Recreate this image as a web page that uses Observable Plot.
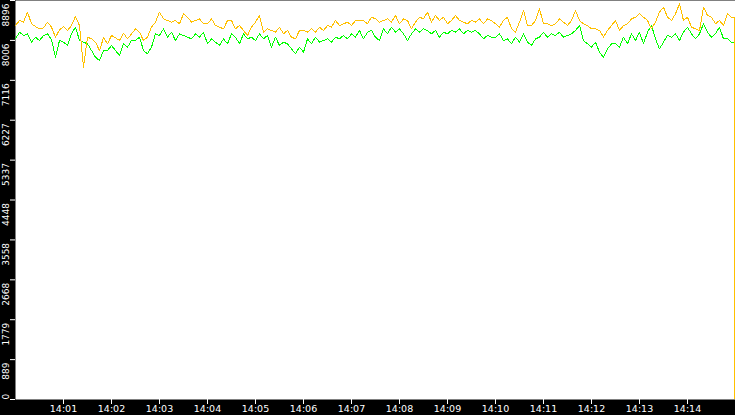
<!DOCTYPE html>
<html>
<head>
<meta charset="utf-8">
<script src="https://cdn.jsdelivr.net/npm/d3@7"></script>
<script src="https://cdn.jsdelivr.net/npm/@observablehq/plot@0.6"></script>
<style>
  html, body { margin: 0; padding: 0; background: #000; }
  #chart svg { display: block; }
</style>
</head>
<body>
<div id="chart"></div>
<script>
// Sample interval: 5 seconds, starting 14:00:00
const startTime = Date.UTC(2020, 0, 1, 14, 0, 0);
const stepSeconds = 5;

const orangeValues = [
  8339, 8450, 8413, 8636, 8376, 8316, 8264, 8287, 8413, 8301, 8078, 8242, 8316, 8227, 8339, 8539, 8339, 7409, 8078, 8041, 7967, 7781, 8064, 7930, 8116, 8064, 8004, 8168, 8041, 8153,
  8264, 8190, 8004, 8078, 8301, 8413, 8636, 8487, 8450, 8413, 8450, 8376, 8599, 8524, 8413, 8450, 8487, 8376, 8376, 8487, 8339, 8301, 8264, 8450, 8450, 8264, 8339, 8227, 8116, 8301,
  8413, 8562, 8190, 8264, 8227, 8190, 8301, 8153, 8227, 8078, 8041, 8227, 8227, 8190, 8264, 8190, 8301, 8227, 8339, 8301, 8450, 8339, 8376, 8413, 8339, 8450, 8450, 8450, 8376, 8524,
  8487, 8413, 8450, 8487, 8413, 8562, 8376, 8487, 8450, 8264, 8413, 8524, 8487, 8636, 8413, 8562, 8450, 8524, 8376, 8450, 8562, 8450, 8413, 8376, 8450, 8413, 8487, 8376, 8487, 8450,
  8376, 8301, 8450, 8524, 8264, 8190, 8413, 8673, 8339, 8339, 8450, 8710, 8376, 8376, 8339, 8376, 8487, 8413, 8339, 8450, 8673, 8450, 8376, 8339, 8264, 8264, 8227, 8080, 8227, 8339,
  8450, 8227, 8339, 8376, 8487, 8524, 8599, 8524, 8450, 8264, 8413, 8636, 8747, 8524, 8450, 8599, 8822, 8450, 8524, 8301, 8264, 8227, 8747, 8562, 8524, 8376, 8450, 8339, 8599, 8524
];

const greenValues = [
  8041, 8190, 8116, 8153, 7967, 8078, 8004, 8116, 8153, 8019, 7632, 8004, 7967, 7893, 8153, 8301, 8004, 7967, 7930, 7781, 7632, 7558, 7781, 7781, 7893, 7781, 7670, 7930, 7855, 8004,
  8004, 8078, 7781, 7707, 7855, 8153, 8116, 8264, 8078, 8190, 8004, 8153, 8116, 8078, 8041, 8153, 8078, 8190, 7930, 8041, 7967, 7893, 8041, 7930, 8153, 8078, 7930, 8153, 8041, 8078,
  8004, 8153, 8041, 8116, 7855, 8078, 7893, 7967, 7930, 7818, 7707, 7855, 7744, 8041, 7930, 8078, 7967, 8004, 8041, 7967, 8078, 8041, 8116, 8041, 8153, 8078, 8227, 8041, 8190, 8227,
  8078, 8004, 8264, 8153, 8301, 8190, 8264, 8153, 8004, 8153, 8264, 8190, 8264, 8227, 8153, 8227, 8078, 8190, 8153, 8227, 8190, 8264, 8153, 8227, 8190, 8227, 8153, 8041, 8116, 8078,
  8078, 8153, 8004, 8041, 7930, 8078, 7967, 8153, 7967, 7893, 8041, 8078, 8190, 8078, 8153, 8116, 8190, 8078, 8116, 8153, 8227, 8339, 8004, 7930, 7855, 7967, 7744, 7632, 7818, 7930,
  7930, 7855, 8078, 7930, 8153, 8004, 8190, 7930, 8190, 8339, 8041, 7818, 7967, 8116, 8078, 8153, 8004, 8190, 8301, 8153, 8041, 8153, 8376, 8190, 8078, 8153, 8301, 8041, 8041, 7967
];

// final sample (at 14:14:59) where the series drop
const orangeLast = 0;
const greenLast = 4146;
const lastSecond = 899;

const yTicks = [0, 889, 1779, 2668, 3558, 4448, 5337, 6227, 7116, 8006, 8896];
const xTickLabels = ["14:01","14:02","14:03","14:04","14:05","14:06","14:07","14:08","14:09","14:10","14:11","14:12","14:13","14:14"];

const orangeColor = "#ffc000";
const greenColor = "#00ff00";

function buildSeries(values) {
  return values.map((v, i) => ({t: new Date(startTime + i * stepSeconds * 1000), v}));
}
const orange = buildSeries(orangeValues);
const green = buildSeries(greenValues);
// closing segment: hold last sample, then drop at the final timestamp
const orangeTail = [orange[orange.length - 1], {t: new Date(startTime + lastSecond * 1000), v: orangeLast}];
const greenTail = [green[green.length - 1], {t: new Date(startTime + lastSecond * 1000), v: greenLast}];

const xTickDates = xTickLabels.map(s => {
  const [h, m] = s.split(":").map(Number);
  return new Date(Date.UTC(2020, 0, 1, h, m, 0));
});
const labelOf = new Map(xTickDates.map((d, i) => [+d, xTickLabels[i]]));

const lineOpts = {x: "t", y: "v", strokeWidth: 1, shapeRendering: "crispEdges", clip: true};

const chart = Plot.plot({
  width: 735,
  height: 415,
  marginLeft: 15,
  marginRight: 0,
  marginTop: 0,
  marginBottom: 16,
  style: {background: "#000", color: "#fff", fontFamily: "DejaVu Sans, sans-serif"},
  x: {type: "utc", domain: [new Date(startTime), new Date(startTime + 900 * 1000)]},
  y: {domain: [0, 8896]},
  marks: [
    Plot.frame({fill: "#fff", stroke: null}),
    Plot.axisX({
      ticks: xTickDates,
      tickSize: 5,
      tickPadding: 1,
      tickFormat: d => labelOf.get(+d),
      stroke: "#fff",
      fill: "#fff",
      fontSize: 9.5,
      label: null
    }),
    Plot.axisY({
      ticks: yTicks,
      tickSize: 5,
      tickFormat: () => "",
      stroke: "#fff",
      label: null
    }),
    Plot.text(yTicks.filter(d => d !== 0), {
      y: d => d,
      text: d => String(d),
      frameAnchor: "left",
      dx: -9.5,
      dy: 3,
      rotate: -90,
      textAnchor: "end",
      lineAnchor: "middle",
      fill: "#fff",
      fontSize: 9
    }),
    Plot.text(yTicks.filter(d => d === 0), {
      y: d => d,
      text: d => String(d),
      frameAnchor: "left",
      dx: -9.5,
      dy: 0,
      rotate: -90,
      textAnchor: "start",
      lineAnchor: "middle",
      fill: "#fff",
      fontSize: 9
    }),
    Plot.line(green, {...lineOpts, stroke: greenColor, curve: "linear"}),
    Plot.line(greenTail, {...lineOpts, stroke: greenColor, curve: "step-after"}),
    Plot.line(orange, {...lineOpts, stroke: orangeColor, curve: "linear"}),
    Plot.line(orangeTail, {...lineOpts, stroke: orangeColor, curve: "step-after"})
  ]
});
document.getElementById("chart").appendChild(chart);
</script>
</body>
</html>
